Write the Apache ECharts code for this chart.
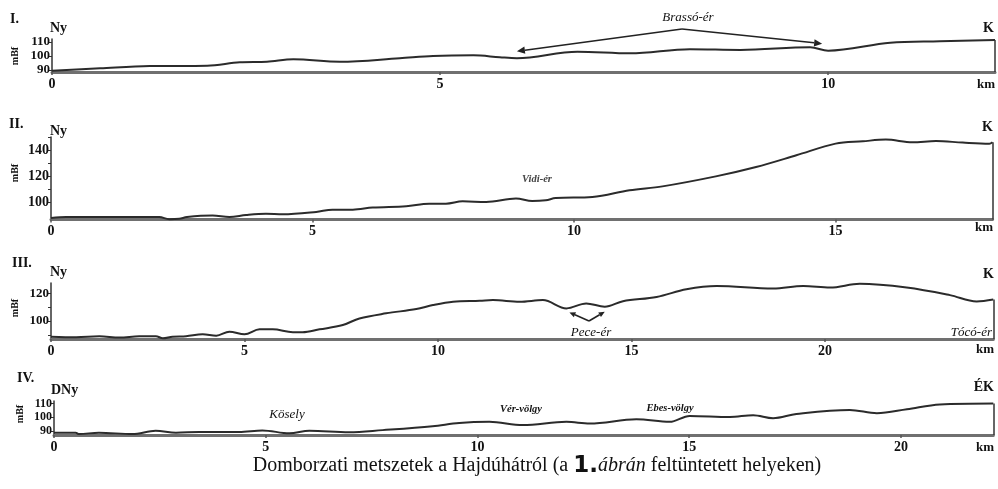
<!DOCTYPE html>
<html>
<head>
<meta charset="utf-8">
<script src="https://cdn.jsdelivr.net/npm/echarts@6/dist/echarts.min.js"></script>
<style>
html, body { margin: 0; padding: 0; background: #fff; }
#chart { width: 998px; height: 489px; }
</style>
</head>
<body>
<div id="chart"></div>
<script>
// Terrain profiles across the Hajdúhát: distance (km) and elevation (m a.s.l.)

// I. profile (Ny -> K)
const kmI = [0, 0.62, 1.26, 2.0, 2.42, 2.77, 3.11, 3.71, 4.48, 4.91, 5.43, 5.77, 5.99, 6.77, 7.45, 8.22, 8.87, 9.77, 10.0, 10.8, 11.44, 12.15];
const mI  = [89.5, 91.2, 92.8, 93.1, 95.5, 95.9, 97.6, 95.9, 98.4, 100.0, 100.5, 99.1, 98.4, 103.1, 101.9, 104.8, 104.3, 106.2, 103.8, 109.5, 110.5, 111.4];

// II. profile (Ny -> K)
const kmII = [0, 0.29, 2.07, 2.26, 2.45, 2.6, 3.09, 3.41, 3.73, 4.11, 4.43, 5.07, 5.38, 5.77, 6.15, 6.79, 7.23, 7.55, 7.87, 8.32, 8.89, 9.2, 9.46, 9.65, 10.35, 11.06, 11.69, 12.71, 13.48, 14.25, 15.0, 15.52, 15.96, 16.47, 16.92, 17.43, 17.94, 18.0];
const mII  = [88.2, 88.9, 88.9, 87.2, 87.5, 88.9, 90.0, 88.9, 90.5, 91.5, 91.0, 92.8, 94.6, 94.6, 96.2, 97.2, 99.2, 99.2, 101.0, 100.5, 103.1, 101.2, 101.8, 103.5, 104.3, 109.5, 112.5, 120.2, 127.4, 136.4, 145.4, 147.2, 148.5, 146.4, 147.4, 146.2, 145.4, 146.5];

// III. profile (Ny -> K)
const kmIII = [0, 0.65, 1.25, 1.77, 2.28, 2.71, 2.89, 3.14, 3.49, 3.92, 4.27, 4.61, 5.0, 5.39, 5.73, 6.25, 6.5, 6.94, 7.54, 7.97, 8.66, 9.44, 9.87, 10.39, 11.08, 11.42, 12.11, 12.71, 13.32, 13.83, 14.31, 14.78, 15.65, 16.42, 17.2, 18.66, 19.44, 20.13, 20.9, 22.11, 23.23, 23.92, 24.35];
const mIII  = [88.7, 88.3, 89.0, 88.0, 89.0, 89.0, 87.5, 88.7, 89.0, 90.4, 89.4, 92.3, 90.4, 94.0, 94.0, 91.9, 91.9, 94.0, 97.1, 101.9, 105.6, 108.7, 111.6, 114.0, 114.7, 115.2, 114.0, 115.2, 109.2, 112.8, 110.4, 114.4, 117.5, 123.1, 125.5, 123.6, 125.5, 124.3, 127.0, 124.3, 118.8, 114.2, 115.6];

// IV. profile (DNy -> ÉK)
const kmIV = [0, 0.51, 0.59, 1.06, 1.85, 2.4, 2.88, 3.43, 4.37, 4.92, 5.56, 6.03, 6.97, 7.76, 8.94, 9.57, 10.28, 11.07, 12.1, 12.65, 13.75, 14.54, 15.01, 15.96, 16.51, 16.98, 17.53, 18.79, 19.43, 20.14, 20.92, 22.18];
const mIV  = [88.6, 88.6, 87.6, 88.6, 87.6, 90.0, 88.6, 89.1, 89.1, 90.3, 88.1, 90.0, 88.9, 90.5, 93.4, 95.8, 96.6, 94.2, 96.6, 95.4, 98.5, 96.6, 101.0, 100.2, 101.5, 99.3, 102.4, 105.4, 103.0, 105.9, 109.5, 110.2];

// Axis ticks and labels
const xLabelsI = [0, 5, 10];
const xLabelsII = [0, 5, 10, 15];
const xLabelsIII = [0, 5, 10, 15, 20];
const xLabelsIV = [0, 5, 10, 15, 20];
const yTicksI = [90, 100, 110];
const yLabelsI = [90, 100, 110];
const yTicksII = [100, 110, 120, 130, 140, 150];
const yLabelsII = [100, 120, 140];
const yTicksIII = [90, 100, 110, 120];
const yLabelsIII = [100, 120];
const yTicksIV = [90, 100, 110];
const yLabelsIV = [90, 100, 110];

const SERIF = '"Liberation Serif", "Times New Roman", serif';
const INK = '#2b2b2b';

const panels = [
  { km: kmI,   m: mI,   xMax: 12.15, yMin: 88.6, yMax: 112.1, xLabels: xLabelsI,   yTicks: yTicksI,   yLabels: yLabelsI,
    grid: { left: 52, top: 39, width: 943, height: 33 }, yFont: 13 },
  { km: kmII,  m: mII,  xMax: 18,    yMin: 87,   yMax: 150.5, xLabels: xLabelsII,  yTicks: yTicksII,  yLabels: yLabelsII,
    grid: { left: 51, top: 137, width: 941.5, height: 82.5 }, yFont: 14 },
  { km: kmIII, m: mIII, xMax: 24.35, yMin: 87,   yMax: 127.6, xLabels: xLabelsIII, yTicks: yTicksIII, yLabels: yLabelsIII,
    grid: { left: 51, top: 283, width: 942.3, height: 56 }, yFont: 13 },
  { km: kmIV,  m: mIV,  xMax: 22.18, yMin: 86.9, yMax: 112,   xLabels: xLabelsIV,  yTicks: yTicksIV,  yLabels: yLabelsIV,
    grid: { left: 54, top: 401, width: 939.3, height: 34 }, yFont: 12 }
];

const chart = echarts.init(document.getElementById('chart'), null, { renderer: 'canvas' });

const option = {
  animation: false,
  backgroundColor: '#fff',
  grid: panels.map(p => Object.assign({ containLabel: false }, p.grid)),
  xAxis: panels.map((p, i) => ({
    type: 'value', gridIndex: i, min: 0, max: p.xMax,
    splitLine: { show: false },
    axisLine: { show: true, onZero: false, lineStyle: { color: '#707070', width: 3 } },
    axisTick: { show: true, length: 3, customValues: p.xLabels, lineStyle: { color: '#555', width: 1.5 } },
    axisLabel: { show: true, customValues: p.xLabels, margin: 5, color: '#111',
      fontFamily: SERIF, fontWeight: 'bold', fontSize: 14 }
  })),
  yAxis: panels.map((p, i) => ({
    type: 'value', gridIndex: i, min: p.yMin, max: p.yMax,
    splitLine: { show: false },
    axisLine: { show: true, onZero: false, lineStyle: { color: '#333', width: 1.5 } },
    axisTick: { show: true, length: 3, customValues: p.yTicks, lineStyle: { color: '#333', width: 1 } },
    axisLabel: { show: true, customValues: p.yLabels, margin: 2, color: '#111',
      fontFamily: SERIF, fontWeight: 'bold', fontSize: p.yFont }
  })),
  series: panels.map((p, i) => ({
    type: 'line', xAxisIndex: i, yAxisIndex: i,
    data: p.km.map((k, j) => [k, p.m[j]]),
    showSymbol: false, smooth: 0.35, clip: false,
    lineStyle: { color: INK, width: 2 },
    markLine: {
      silent: true, symbol: 'none', label: { show: false },
      lineStyle: { color: '#333', width: 1.5, type: 'solid' },
      data: [[{ coord: [p.xMax, p.yMin] }, { coord: [p.xMax, p.m[p.m.length - 1]] }]]
    }
  }))
};
chart.setOption(option);

// ---- annotations -------------------------------------------------------
function txt(s, x, y, font, align, vAlign, extra) {
  return Object.assign({
    type: 'text', x: x, y: y, silent: true,
    style: { text: s, font: font, fill: '#111', align: align || 'left', verticalAlign: vAlign || 'top' }
  }, extra || {});
}
function arrow(from, tip, head) {
  const a = Math.atan2(tip[1] - from[1], tip[0] - from[0]);
  const L = head || 7, W = (head || 7) * 0.45;
  const bx = tip[0] - L * Math.cos(a), by = tip[1] - L * Math.sin(a);
  const nx = -Math.sin(a) * W, ny = Math.cos(a) * W;
  return [
    { type: 'line', silent: true, shape: { x1: from[0], y1: from[1], x2: bx, y2: by },
      style: { stroke: '#222', lineWidth: 1.6 } },
    { type: 'polygon', silent: true, shape: { points: [tip, [bx + nx, by + ny], [bx - nx, by - ny]] },
      style: { fill: '#222' } }
  ];
}
const px = (g, v) => chart.convertToPixel({ gridIndex: g }, v);

const B = 'bold 14px ' + SERIF;
const BS = 'bold 13px ' + SERIF;
const MBF = 'bold 10px ' + SERIF;
const IT = 'italic 13px ' + SERIF;
const ITS = 'italic bold 10.5px ' + SERIF;

const g = [];
// panel titles, directions, units
g.push(txt('I.', 10, 12, B));
g.push(txt('Ny', 50, 21, B));
g.push(txt('K', 994, 21, B, 'right'));
g.push(txt('km', 995, 78, BS, 'right'));
g.push(txt('mBf', 15, 56, MBF, 'center', 'middle', { rotation: Math.PI / 2 }));

g.push(txt('II.', 9, 117, B));
g.push(txt('Ny', 50, 124, B));
g.push(txt('K', 993, 120, B, 'right'));
g.push(txt('km', 993, 221, BS, 'right'));
g.push(txt('mBf', 15, 173, MBF, 'center', 'middle', { rotation: Math.PI / 2 }));

g.push(txt('III.', 12, 256, B));
g.push(txt('Ny', 50, 265, B));
g.push(txt('K', 994, 267, B, 'right'));
g.push(txt('km', 994, 343, BS, 'right'));
g.push(txt('mBf', 15, 308, MBF, 'center', 'middle', { rotation: Math.PI / 2 }));

g.push(txt('IV.', 17, 371, B));
g.push(txt('DNy', 51, 383, B));
g.push(txt('ÉK', 994, 380, B, 'right'));
g.push(txt('km', 994, 441, BS, 'right'));
g.push(txt('mBf', 20, 414, MBF, 'center', 'middle', { rotation: Math.PI / 2 }));

// stream and valley names
g.push(txt('Brassó-ér', 688, 18, IT, 'center', 'middle'));
const bApex = [682, 29];
const bLeft = px(0, [5.99, 98.4]);
const bRight = px(0, [10.0, 103.8]);
g.push(...arrow(bApex, [bLeft[0], bLeft[1] - 7], 8));
g.push(...arrow(bApex, [bRight[0] - 6, bRight[1] - 7], 8));

g.push({
  type: 'text', x: 537, y: 179, silent: true,
  style: { text: 'Vidi-ér', font: 'italic bold 10.5px ' + SERIF, fill: '#444', align: 'center', verticalAlign: 'middle' }
});

const pL = px(2, [13.32, 109.2]);
const pR = px(2, [14.31, 110.4]);
const pApex = [589, 321];
g.push(...arrow(pApex, [pL[0] + 3, pL[1] + 4], 6));
g.push(...arrow(pApex, [pR[0], pR[1] + 5], 6));
g.push(txt('Pece-ér', 591, 333, IT, 'center', 'middle'));
g.push(txt('Tócó-ér', 992, 333, IT, 'right', 'middle'));

g.push(txt('Kösely', 287, 415, IT, 'center', 'middle'));
g.push(txt('Vér-völgy', 521, 409, ITS, 'center', 'middle'));
g.push(txt('Ebes-völgy', 670, 408, ITS, 'center', 'middle'));

// caption
g.push({
  type: 'text', x: 537, y: 466, silent: true,
  style: {
    text: '{a|Domborzati metszetek a Hajdúhátról (a }{b|1.}{c|ábrán}{a| feltüntetett helyeken)}',
    align: 'center', verticalAlign: 'middle',
    rich: {
      a: { font: '20px ' + SERIF, fill: '#111' },
      b: { font: 'bold 23px "DejaVu Sans", sans-serif', fill: '#111' },
      c: { font: 'italic 20px ' + SERIF, fill: '#111' }
    }
  }
});

chart.setOption({ graphic: { elements: g } });
</script>
</body>
</html>
